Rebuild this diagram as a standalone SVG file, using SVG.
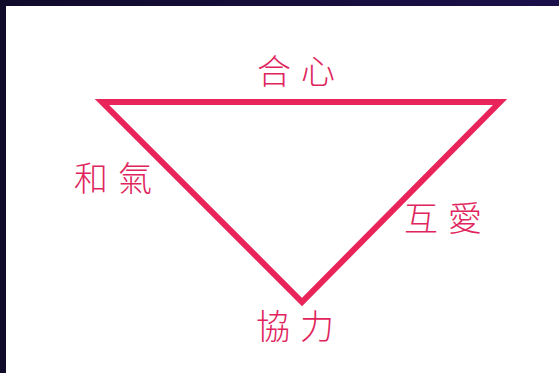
<svg xmlns="http://www.w3.org/2000/svg" width="559" height="373" viewBox="0 0 559 373">
<defs>
<linearGradient id="bg" x1="0" y1="0" x2="1" y2="0">
<stop offset="0" stop-color="#110b2a"/>
<stop offset="1" stop-color="#1b0f4a"/>
</linearGradient>
<style>
.lbl{font-family:"Noto Sans CJK TC","Noto Sans CJK SC",sans-serif;font-size:34px;fill:#e0255e;font-weight:300;letter-spacing:10px}
.edge{stroke:#e8245a;stroke-width:6;fill:none;stroke-linejoin:miter}
</style>
</defs>
<rect x="0" y="0" width="559" height="373" fill="#ffffff"/>
<rect x="0" y="0" width="559" height="6" fill="url(#bg)"/>
<rect x="0" y="0" width="6" height="373" fill="#110b2a"/>
<g id="connectors">
<path class="edge" d="M102,102 L500,102 L302,302 Z"/>
</g>
<g id="top"><text class="lbl" x="257" y="84">合心</text></g>
<g id="left"><text class="lbl" x="74" y="191">和氣</text></g>
<g id="right"><text class="lbl" x="404" y="231">互愛</text></g>
<g id="bottom"><text class="lbl" x="256" y="339">協力</text></g>
</svg>
